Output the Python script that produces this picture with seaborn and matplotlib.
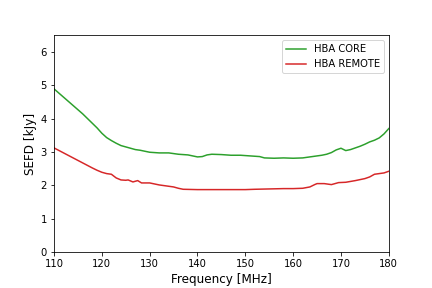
import pandas as pd
import numpy as np
import matplotlib
matplotlib.use("Agg")
import matplotlib.pyplot as plt
import seaborn as sns

# SEFD curves (frequency in MHz, SEFD in kJy)
core_freq = [110, 112, 114, 116, 118, 119, 120, 121, 122, 123, 124, 125, 126, 127, 128, 129,
             130, 132, 134, 135, 136, 137, 138, 139, 140, 141, 142, 143, 145, 147, 149, 151,
             153, 154, 156, 158, 160, 162, 164, 166, 167, 168, 169, 170, 171, 172, 173, 174,
             175, 176, 177, 178, 179, 180]
core_sefd = [4.89, 4.64, 4.39, 4.14, 3.86, 3.72, 3.56, 3.43, 3.34, 3.26, 3.19, 3.15, 3.11, 3.07, 3.05, 3.02,
             2.99, 2.97, 2.97, 2.95, 2.93, 2.92, 2.91, 2.88, 2.85, 2.86, 2.91, 2.93, 2.92, 2.90, 2.90, 2.88,
             2.86, 2.82, 2.81, 2.82, 2.81, 2.82, 2.86, 2.90, 2.93, 2.98, 3.06, 3.11, 3.04, 3.07, 3.12, 3.17,
             3.23, 3.30, 3.35, 3.42, 3.54, 3.70]

remote_freq = [110, 112, 114, 116, 118, 119, 120, 121, 122, 123, 124, 125, 125.5, 126.5, 127.5, 128.3,
               130, 132, 134, 135, 136, 137, 140, 145, 150, 152, 155, 158, 160, 162, 163.5, 164.5,
               165, 166.5, 168, 169.5, 171, 173, 175, 176, 177, 179, 180]
remote_sefd = [3.12, 2.97, 2.82, 2.67, 2.52, 2.45, 2.39, 2.35, 2.33, 2.22, 2.16, 2.15, 2.16, 2.10, 2.14, 2.07,
               2.07, 2.01, 1.97, 1.95, 1.91, 1.88, 1.87, 1.87, 1.87, 1.88, 1.89, 1.90, 1.90, 1.91, 1.95, 2.02,
               2.05, 2.05, 2.02, 2.08, 2.09, 2.14, 2.20, 2.25, 2.33, 2.37, 2.42]

labels = ["HBA CORE", "HBA REMOTE"]
colors = ["#2ca02c", "#d62728"]

df = pd.concat([
    pd.DataFrame({"freq": core_freq, "sefd": core_sefd, "station": labels[0]}),
    pd.DataFrame({"freq": remote_freq, "sefd": remote_sefd, "station": labels[1]}),
])

# plain matplotlib look (no seaborn theme)
plt.rcParams["font.family"] = ["DejaVu Sans"]

fig, ax = plt.subplots(figsize=(6, 4), dpi=72)
fig.subplots_adjust(left=0.125, right=0.9, bottom=0.125, top=0.878)

sns.lineplot(data=df, x="freq", y="sefd", hue="station", palette=colors,
             sort=False, linewidth=1.5, ax=ax)

ax.set_xlim(110, 180)
ax.set_ylim(0, 6.5)
ax.set_xlabel("Frequency [MHz]", fontsize=12)
ax.set_ylabel("SEFD [kJy]", fontsize=12)
ax.legend(title=None, loc="upper right")

plt.savefig("out.png", dpi=72)
